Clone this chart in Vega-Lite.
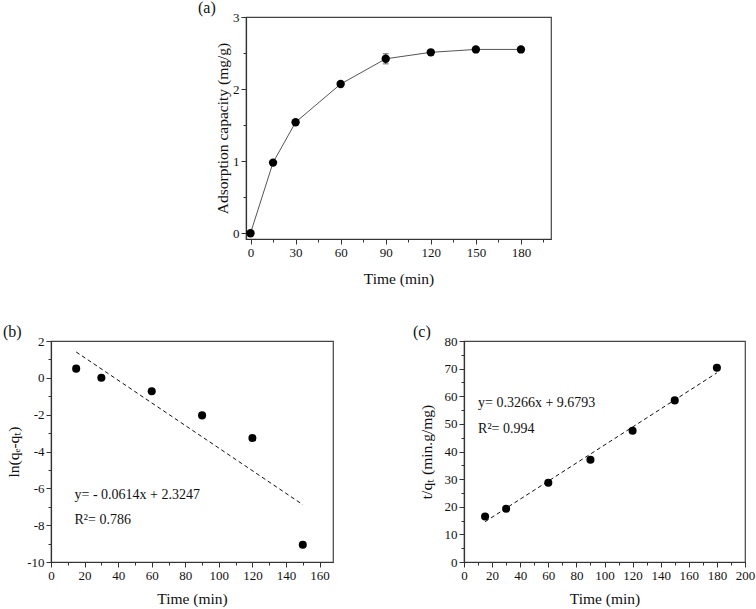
{
  "$schema": "https://vega.github.io/schema/vega-lite/v6.json",
  "padding": {"left": 2, "top": -1, "right": 2, "bottom": 2},
  "background": "white",
  "config": {
    "font": "Liberation Serif",
    "view": {"stroke": "#444", "strokeWidth": 1.2},
    "axis": {
      "labelFont": "Liberation Serif", "labelFontSize": 13, "labelColor": "#111",
      "titleFont": "Liberation Serif", "titleFontSize": 15.5, "titleFontWeight": "normal", "titleColor": "#111",
      "grid": false, "domainColor": "#333", "tickColor": "#333", "domainWidth": 1.2, "tickWidth": 1,
      "labelPadding": 2, "titlePadding": 6, "labelOverlap": false, "labelFlush": false
    },
    "axisX": {"titlePadding": 9},
    "title": {"font": "Liberation Serif", "fontSize": 16, "fontWeight": "normal", "color": "#111", "anchor": "start", "frame": "group", "offset": -5, "baseline": "alphabetic"}
  },
  "datasets": {
    "kin": [
      {"t": 0, "q": 0}, {"t": 15, "q": 0.98}, {"t": 30, "q": 1.54}, {"t": 60, "q": 2.07},
      {"t": 90, "q": 2.42}, {"t": 120, "q": 2.51}, {"t": 150, "q": 2.55}, {"t": 180, "q": 2.55}
    ],
    "err": [{"t": 90, "lo": 2.35, "hi": 2.49}],
    "pfo": [
      {"t": 15, "v": 0.5}, {"t": 30, "v": 0.0}, {"t": 60, "v": -0.73},
      {"t": 90, "v": -2.04}, {"t": 120, "v": -3.27}, {"t": 150, "v": -9.06}
    ],
    "pfoFit": [{"t": 15, "v": 1.404}, {"t": 150, "v": -6.886}],
    "pfoText": [{"t": 14, "v": -6.38, "label": "y= - 0.0614x + 2.3247"}, {"t": 14, "v": -7.74, "label": "R²= 0.786"}],
    "pso": [
      {"t": 15, "v": 16.5}, {"t": 30, "v": 19.3}, {"t": 60, "v": 28.7}, {"t": 90, "v": 37.0},
      {"t": 120, "v": 47.5}, {"t": 150, "v": 58.5}, {"t": 180, "v": 70.3}
    ],
    "psoFit": [{"t": 15, "v": 14.58}, {"t": 180, "v": 68.47}],
    "psoText": [{"t": 10, "v": 57.5, "label": "y= 0.3266x + 9.6793"}, {"t": 10, "v": 48.3, "label": "R²= 0.994"}],
    "blank": [{"k": 1}]
  },
  "vconcat": [
    {
      "hconcat": [
        {
          "width": 1, "height": 1,
          "data": {"name": "blank"},
          "mark": {"type": "text", "text": ""},
          "encoding": {},
          "view": {"stroke": null}
        },
        {
          "width": 305, "height": 222,
          "title": {"text": "(a)", "dx": -48},
          "encoding": {
            "x": {"field": "t", "type": "quantitative", "title": "Time (min)",
              "scale": {"domain": [-3, 200], "nice": false, "zero": false},
              "axis": {"values": [0, 15, 30, 45, 60, 75, 90, 105, 120, 135, 150, 165, 180, 195],
                "titlePadding": 12,
                "labelExpr": "datum.value % 30 === 0 ? '' + datum.value : ''",
                "tickSize": {"condition": {"test": "datum.value % 30 === 0", "value": 5}, "value": 3}}},
            "y": {"field": "q", "type": "quantitative", "title": "Adsorption capacity (mg/g)",
              "scale": {"domain": [-0.08, 3], "nice": false, "zero": false},
              "axis": {"values": [0, 0.5, 1, 1.5, 2, 2.5, 3],
                "titlePadding": 2,
                "labelExpr": "datum.value % 1 === 0 ? '' + datum.value : ''",
                "tickSize": {"condition": {"test": "datum.value % 1 === 0", "value": 5}, "value": 3}}}
          },
          "layer": [
            {"data": {"name": "kin"}, "mark": {"type": "line", "color": "#555", "strokeWidth": 1}},
            {"data": {"name": "err"}, "mark": {"type": "errorbar", "ticks": {"size": 6}, "color": "#333"},
              "encoding": {"y": {"field": "lo", "type": "quantitative", "title": "Adsorption capacity (mg/g)"}, "y2": {"field": "hi"}}},
            {"data": {"name": "kin"}, "mark": {"type": "point", "filled": true, "color": "#000", "opacity": 1, "size": 70}}
          ]
        }
      ],
      "spacing": 194,
      "bounds": "flush"
    },
    {
      "hconcat": [
        {
          "width": 282, "height": 221,
          "title": {"text": "(b)", "dx": -48},
          "encoding": {
            "x": {"field": "t", "type": "quantitative", "title": "Time (min)",
              "scale": {"domain": [0, 168], "nice": false},
              "axis": {"values": [0, 10, 20, 30, 40, 50, 60, 70, 80, 90, 100, 110, 120, 130, 140, 150, 160],
                "labelExpr": "datum.value % 20 === 0 ? '' + datum.value : ''",
                "tickSize": {"condition": {"test": "datum.value % 20 === 0", "value": 5}, "value": 3}}},
            "y": {"field": "v", "type": "quantitative", "title": "ln(qₑ-qₜ)",
              "scale": {"domain": [-10, 2], "nice": false, "zero": false},
              "axis": {"values": [-10, -9, -8, -7, -6, -5, -4, -3, -2, -1, 0, 1, 2],
                "titlePadding": 5,
                "labelExpr": "datum.value % 2 === 0 ? '' + datum.value : ''",
                "tickSize": {"condition": {"test": "datum.value % 2 === 0", "value": 5}, "value": 3}}}
          },
          "layer": [
            {"data": {"name": "pfoFit"}, "mark": {"type": "line", "color": "#111", "strokeWidth": 1, "strokeDash": [4, 3]}},
            {"data": {"name": "pfo"}, "mark": {"type": "point", "filled": true, "color": "#000", "opacity": 1, "size": 65}},
            {"data": {"name": "pfoText"}, "mark": {"type": "text", "align": "left", "baseline": "middle", "fontSize": 14, "font": "Liberation Serif", "color": "#111"},
              "encoding": {"text": {"field": "label"}}}
          ]
        },
        {
          "width": 281, "height": 221,
          "title": {"text": "(c)", "dx": -51},
          "encoding": {
            "x": {"field": "t", "type": "quantitative", "title": "Time (min)",
              "scale": {"domain": [0, 200], "nice": false},
              "axis": {"values": [0, 10, 20, 30, 40, 50, 60, 70, 80, 90, 100, 110, 120, 130, 140, 150, 160, 170, 180, 190, 200],
                "labelExpr": "datum.value % 20 === 0 ? '' + datum.value : ''",
                "tickSize": {"condition": {"test": "datum.value % 20 === 0", "value": 5}, "value": 3}}},
            "y": {"field": "v", "type": "quantitative", "title": "t/qₜ (min.g/mg)",
              "scale": {"domain": [0, 80], "nice": false},
              "axis": {"values": [0, 5, 10, 15, 20, 25, 30, 35, 40, 45, 50, 55, 60, 65, 70, 75, 80],
                "titlePadding": 10,
                "labelExpr": "datum.value % 10 === 0 ? '' + datum.value : ''",
                "tickSize": {"condition": {"test": "datum.value % 10 === 0", "value": 5}, "value": 3}}}
          },
          "layer": [
            {"data": {"name": "psoFit"}, "mark": {"type": "line", "color": "#111", "strokeWidth": 1, "strokeDash": [4, 3]}},
            {"data": {"name": "pso"}, "mark": {"type": "point", "filled": true, "color": "#000", "opacity": 1, "size": 65}},
            {"data": {"name": "psoText"}, "mark": {"type": "text", "align": "left", "baseline": "middle", "fontSize": 14, "font": "Liberation Serif", "color": "#111"},
              "encoding": {"text": {"field": "label"}}}
          ]
        }
      ],
      "spacing": 131,
      "bounds": "flush"
    }
  ],
  "spacing": 35
}
